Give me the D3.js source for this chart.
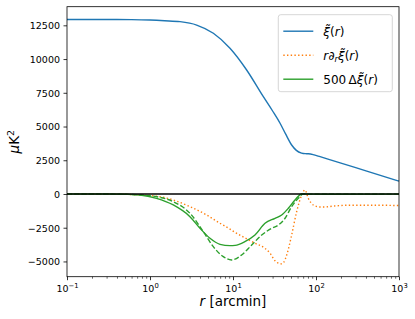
<!DOCTYPE html>
<html>
<meta charset="utf-8">
<style>
    body { margin: 0; background: #fff; }
    svg { display: block; background: #fff; }
    text { font-family: 'DejaVu Sans', sans-serif; }
    .tick text { font-size: 9.5px; fill: #000; }
</style>
<body>
<svg width="415" height="319"></svg>
<script src="https://d3js.org/d3.v7.min.js"></script>
<script>
    let rXi = [0.1, 0.3, 0.6, 1, 1.5, 2.3, 3.65, 5.8, 9.2, 14.6, 23.2, 30, 36.9, 43, 50.9, 58, 67, 74, 81, 95, 112, 200, 400, 1000];
    let xi  = [12930, 12930, 12920, 12890, 12840, 12770, 12520, 11910, 10800, 9190, 7210, 6150, 5240, 4450, 3630, 3230, 3030, 2990, 2985, 2900, 2765, 2290, 1710, 950];

    let rDer = [0.1, 0.3, 0.5, 0.757, 1.32, 1.91, 3.03, 4.82, 6.97, 9.2, 10.6, 13.9, 18.4, 24.3, 28, 32.1, 36, 38.6, 41, 44.4, 50.9, 58.5, 67.3, 73.6, 80.7, 92.7, 110, 130, 160, 250, 500, 1000];
    let der  = [0, -5, -25, -74, -200, -445, -940, -1556, -2170, -2600, -2850, -3250, -3650, -4030, -4400, -4950, -5150, -5180, -5050, -4520, -3040, -1310, -74, 300, -320, -815, -960, -960, -900, -830, -830, -860];

    let rDelta = [0.1, 0.3, 0.5, 0.757, 1.2, 1.91, 3.03, 4.0, 5.28, 6.97, 9.2, 10.6, 13.9, 18.4, 24.3, 32.1, 38.6, 46.4, 55.8, 67.3, 80, 150, 1000];
    let delta  = [0, -5, -25, -74, -320, -815, -1680, -2540, -3285, -3730, -3830, -3810, -3530, -3040, -2170, -1800, -1556, -1060, -445, 0, -10, -20, -10];

    let rDeltaB = [0.1, 0.3, 0.5, 0.757, 1.2, 1.91, 3.03, 4.39, 5.79, 7.64, 9.64, 12.7, 16.8, 22.2, 29.3, 35.2, 42.4, 50.9, 61.2, 70.3, 80, 150, 1000];
    let deltaB  = [0, -5, -20, -74, -200, -570, -1430, -2790, -3905, -4645, -4890, -4520, -3780, -3040, -2540, -2300, -1800, -940, -320, 0, -10, -20, -10];

    let yTicks = [-5000, -2500, 0, 2500, 5000, 7500, 10000, 12500];
    let xTicks = [0.1, 1, 10, 100, 1000];
    let xExp = ["\u22121", "0", "1", "2", "3"];
    let legendLabels = ["xi", "der", "delta"];

    let margin = {top: 6.7, right: 16, bottom: 42.3, left: 67},
        width = 415 - margin.left - margin.right,
        height = 319 - margin.top - margin.bottom;

    let svg = d3.select("svg").append("g")
        .attr("transform", "translate(" + margin.left + "," + margin.top + ")");

    let xScale = d3.scaleLog().domain([0.1, 1000]).range([0, width]);
    let yScale = d3.scaleLinear().domain([-6130, 13880]).range([height, 0]);

    let minor = [];
    [0.1, 1, 10, 100].forEach(function(d) {
        for (let k = 2; k < 10; k++) minor.push(d * k);
    });

    // minor ticks on log axis
    svg.append("g")
        .attr("transform", "translate(0," + height + ")")
        .call(d3.axisBottom(xScale).tickValues(minor).tickSize(2).tickFormat(""))
        .call(g => g.select(".domain").remove())
        .selectAll("line").attr("stroke", "#000").attr("stroke-width", 0.6);

    let xAxis = svg.append("g")
        .attr("transform", "translate(0," + height + ")")
        .call(d3.axisBottom(xScale).tickValues(xTicks).tickSize(3.5).tickPadding(3.5).tickFormat(""));
    xAxis.selectAll("line").attr("stroke", "#000").attr("stroke-width", 0.8);
    xAxis.select(".domain").remove();
    xAxis.selectAll(".tick").append("text")
        .attr("y", 15.5)
        .attr("text-anchor", "middle")
        .each(function(d, i) {
            let t = d3.select(this);
            t.append("tspan").text("10");
            t.append("tspan").attr("dy", -4.5).style("font-size", "6.8px").text(xExp[i]);
        });

    let yAxis = svg.append("g")
        .call(d3.axisLeft(yScale).tickValues(yTicks).tickSize(3.5).tickPadding(3.5)
            .tickFormat(d => d3.format(",")(d).replace(/,/g, "").replace("-", "\u2212")));
    yAxis.selectAll("line").attr("stroke", "#000").attr("stroke-width", 0.8);
    yAxis.select(".domain").remove();
    yAxis.selectAll("text").attr("dy", "0.35em");

    let line = d3.line()
        .x(d => xScale(d[0]))
        .y(d => yScale(d[1]))
        .curve(d3.curveMonotoneX);

    function pairs(rs, vs) { return rs.map((r, i) => [r, vs[i]]); }

    svg.append("path").datum(pairs(rXi, xi))
        .attr("d", line).attr("fill", "none")
        .attr("stroke", "#1f77b4").attr("stroke-width", 1.4);

    svg.append("path").datum(pairs(rDer, der))
        .attr("d", line).attr("fill", "none")
        .attr("stroke", "#ff7f0e").attr("stroke-width", 1.4)
        .attr("stroke-dasharray", "1.4,2.3");

    svg.append("path").datum(pairs(rDelta, delta))
        .attr("d", line).attr("fill", "none")
        .attr("stroke", "#2ca02c").attr("stroke-width", 1.4);

    svg.append("path").datum(pairs(rDeltaB, deltaB))
        .attr("d", line).attr("fill", "none")
        .attr("stroke", "#2ca02c").attr("stroke-width", 1.4)
        .attr("stroke-dasharray", "5,2.2");

    // zero line
    svg.append("line")
        .attr("x1", 0).attr("x2", width)
        .attr("y1", yScale(0)).attr("y2", yScale(0))
        .attr("stroke", "#000").attr("stroke-width", 1.5);

    // frame
    svg.append("rect")
        .attr("width", width).attr("height", height)
        .attr("fill", "none").attr("stroke", "#000").attr("stroke-width", 0.8);

    // legend
    let legend = svg.append("g").attr("transform", "translate(" + (width - 120.7) + ",8)");
    legend.append("rect")
        .attr("width", 114).attr("height", 77).attr("rx", 2.5)
        .attr("fill", "#fff").attr("fill-opacity", 0.8)
        .attr("stroke", "#cccccc").attr("stroke-width", 0.8);

    let legColors = ["#1f77b4", "#ff7f0e", "#2ca02c"];
    let legDash = [null, "1.4,2.3", null];
    legendLabels.forEach(function(key, i) {
        let yy = 16.5 + i * 24;
        legend.append("line")
            .attr("x1", 5).attr("x2", 35).attr("y1", yy).attr("y2", yy)
            .attr("stroke", legColors[i]).attr("stroke-width", 1.4)
            .attr("stroke-dasharray", legDash[i]);
        let t = legend.append("text").attr("x", 45).attr("y", yy + 4.5)
            .style("font-size", "12px");
        if (key === "der") {
            t.append("tspan").style("font-style", "italic").text("r");
            t.append("tspan").style("font-style", "italic").text("\u2202");
            t.append("tspan").style("font-style", "italic").style("font-size", "8.5px").attr("dy", 2.5).text("r");
            t.append("tspan").attr("dy", -2.5).style("font-style", "italic").text("\u03be\u0303");
        } else if (key === "delta") {
            t.append("tspan").text("500\u2009\u0394");
            t.append("tspan").style("font-style", "italic").text("\u03be\u0303");
        } else {
            t.append("tspan").style("font-style", "italic").text("\u03be\u0303");
        }
        t.append("tspan").text("(");
        t.append("tspan").style("font-style", "italic").text("r");
        t.append("tspan").text(")");
    });

    // axis labels
    let xl = svg.append("text")
        .attr("x", width / 2).attr("y", height + 29.5)
        .attr("text-anchor", "middle").style("font-size", "13.5px");
    xl.append("tspan").style("font-style", "italic").text("r");
    xl.append("tspan").text(" [arcmin]");

    let yl = svg.append("text")
        .attr("transform", "translate(-48," + (height / 2) + ") rotate(-90)")
        .attr("text-anchor", "middle").style("font-size", "13.5px");
    yl.append("tspan").style("font-style", "italic").text("\u03bc");
    yl.append("tspan").text("K");
    yl.append("tspan").attr("dy", -5).style("font-size", "9.5px").text("2");
</script>
</body>
</html>
